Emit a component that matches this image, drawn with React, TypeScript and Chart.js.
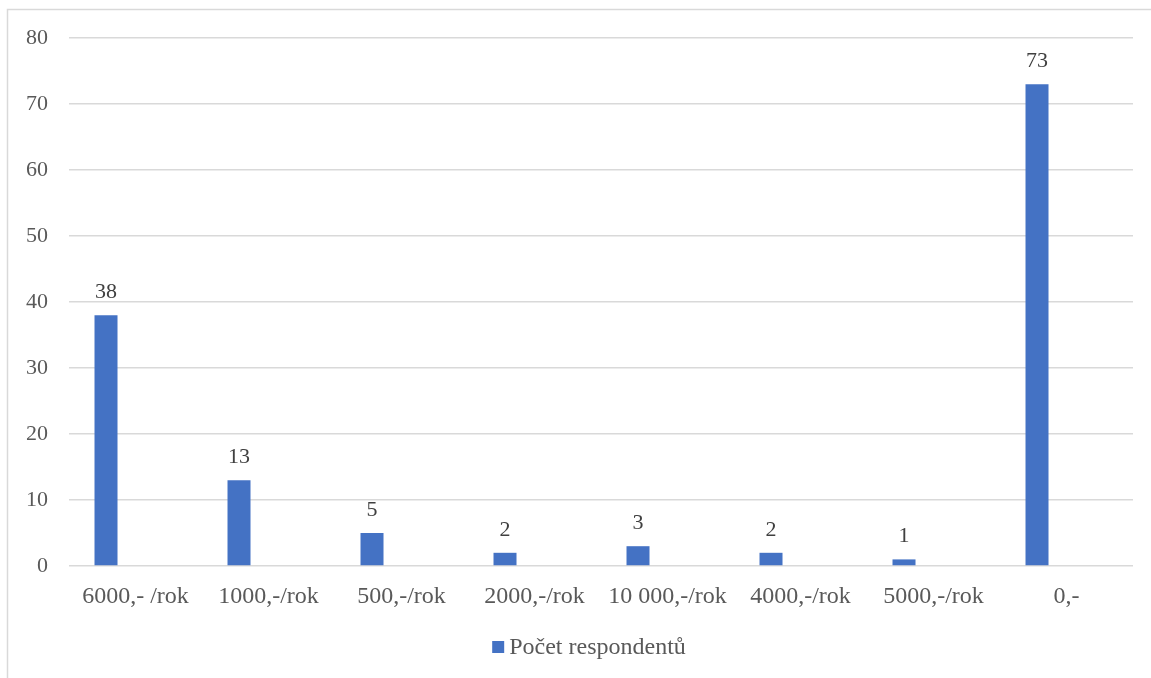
import React, { useEffect, useRef } from "react";
import { Chart, registerables } from "chart.js";

Chart.register(...registerables);

const categories = [
  "6000,- /rok",
  "1000,-/rok",
  "500,-/rok",
  "2000,-/rok",
  "10 000,-/rok",
  "4000,-/rok",
  "5000,-/rok",
  "0,-",
];
const respondents = [38, 13, 5, 2, 3, 2, 1, 73];
// empty companion series that keeps each bar on the left side of its slot
const emptySeries = [null, null, null, null, null, null, null, null];
const yTicks = [0, 10, 20, 30, 40, 50, 60, 70, 80];
const seriesName = "Počet respondentů";

const FONT = '"Liberation Serif", "Times New Roman", serif';
const BAR = "#4472C4";
const GRID = "#d9d9d9";
const TEXT = "#595959";

const framePlugin = {
  id: "frame",
  beforeDraw(chart: any) {
    const ctx = chart.ctx;
    ctx.save();
    ctx.fillStyle = "#ffffff";
    ctx.fillRect(0, 0, chart.width, chart.height);
    ctx.strokeStyle = GRID;
    ctx.lineWidth = 1.5;
    ctx.strokeRect(7.5, 9.5, chart.width + 20, chart.height + 20);
    ctx.restore();
  },
};

const valueLabels = {
  id: "valueLabels",
  afterDatasetsDraw(chart: any) {
    const ctx = chart.ctx;
    const meta = chart.getDatasetMeta(0);
    const data = chart.data.datasets[0].data;
    ctx.save();
    ctx.font = `22px ${FONT}`;
    ctx.fillStyle = "#404040";
    ctx.textAlign = "center";
    ctx.textBaseline = "middle";
    meta.data.forEach((bar: any, i: number) => {
      ctx.fillText(String(data[i]), bar.x, bar.y - 23);
    });
    ctx.restore();
  },
};

// single-entry legend under the axis labels
const bottomLegend = {
  id: "bottomLegend",
  afterDraw(chart: any) {
    const ctx = chart.ctx;
    const ds = chart.data.datasets[0];
    ctx.save();
    ctx.font = `24px ${FONT}`;
    const textW = ctx.measureText(ds.label).width;
    const box = 12;
    const gap = 5;
    const total = box + gap + textW;
    const cx = 589;
    const cy = 647;
    const x0 = cx - total / 2;
    ctx.fillStyle = ds.backgroundColor;
    ctx.fillRect(x0, cy - box / 2, box, box);
    ctx.fillStyle = TEXT;
    ctx.textAlign = "left";
    ctx.textBaseline = "middle";
    ctx.fillText(ds.label, x0 + box + gap, cy + 1);
    ctx.restore();
  },
};

export default function App() {
  const ref = useRef<HTMLCanvasElement>(null);

  useEffect(() => {
    if (!ref.current) return;
    const chart = new Chart(ref.current, {
      type: "bar",
      data: {
        labels: categories,
        datasets: [
          {
            label: seriesName,
            data: respondents,
            backgroundColor: BAR,
            barPercentage: 0.39,
            categoryPercentage: 0.887,
          },
          {
            label: "",
            data: emptySeries as any,
            backgroundColor: "rgba(0,0,0,0)",
            barPercentage: 0.39,
            categoryPercentage: 0.887,
          },
        ],
      },
      options: {
        responsive: false,
        animation: false,
        layout: { padding: { top: 38, right: 18, bottom: 55, left: 0 } },
        plugins: {
          tooltip: { enabled: false },
          legend: { display: false },
        },
        scales: {
          x: {
            grid: { display: false, drawTicks: false },
            border: { display: false },
            ticks: {
              color: TEXT,
              font: { family: FONT, size: 24 },
              padding: 16,
              maxRotation: 0,
              autoSkip: false,
            },
            afterFit: (scale: any) => {
              scale.height = 57;
            },
          },
          y: {
            min: 0,
            max: 80,
            afterBuildTicks: (scale: any) => {
              scale.ticks = yTicks.map((v) => ({ value: v }));
            },
            grid: { color: GRID, lineWidth: 1.5, drawTicks: false },
            border: { display: false },
            ticks: {
              color: TEXT,
              font: { family: FONT, size: 22 },
              padding: 21,
            },
            afterFit: (scale: any) => {
              scale.width = 69;
            },
          },
        },
      },
      plugins: [framePlugin, valueLabels, bottomLegend],
    });
    return () => chart.destroy();
  }, []);

  return (
    <div style={{ position: "absolute", left: 0, top: 0, width: 1151, height: 678 }}>
      <canvas ref={ref} width={1151} height={678} style={{ display: "block" }} />
    </div>
  );
}
